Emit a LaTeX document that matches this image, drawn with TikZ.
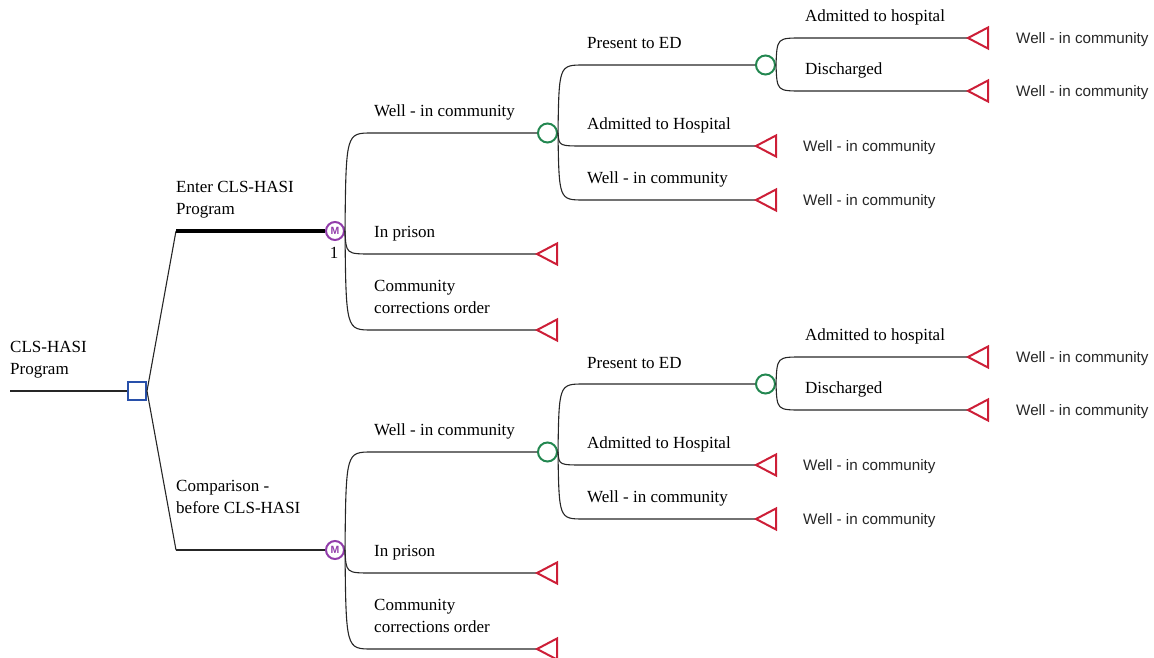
\documentclass[tikz,border=0pt]{standalone}
\usepackage{fontspec}
\setmainfont{Liberation Serif}
\newfontfamily\arialf{Liberation Sans}
\definecolor{tred}{RGB}{205,30,55}
\definecolor{cgreen}{RGB}{35,135,80}
\definecolor{mpurple}{RGB}{145,60,170}
\definecolor{dblue}{RGB}{40,80,170}
\tikzset{
  lbl/.style={anchor=base west, inner sep=0pt, font=\fontsize{17}{22}\selectfont, align=left},
  tlbl/.style={anchor=base west, inner sep=0pt, font=\arialf\fontsize{15.2}{18}\selectfont, text=black!85},
  chance/.style={circle, draw=cgreen, line width=2pt, minimum size=19pt, inner sep=0pt},
  mnode/.style={circle, draw=mpurple, line width=2pt, minimum size=18pt, inner sep=0pt, text=mpurple, font=\arialf\bfseries\fontsize{10.5}{10.5}\selectfont},
  decision/.style={rectangle, draw=dblue, line width=2pt, minimum size=18pt, inner sep=0pt},
  termtri/.style={draw=tred, line width=2pt, line join=miter},
  branch/.style={draw=black!85, line width=1.1pt},
  thickbranch/.style={draw=black, line width=3.5pt},
}
\newcommand\halftree[2]{%
\begin{scope}[yshift=#2]
  \node[mnode] (#1m) at (335,231) {M};
  \coordinate (#1a1) at (372,133);
  \coordinate (#1a2) at (372,254);
  \coordinate (#1a3) at (372,330);
  \node[chance] (#1c1) at (547.5,133) {};
  \coordinate (#1t1) at (537,254);
  \coordinate (#1t2) at (537,330);
  \draw[branch] (#1m.east) .. controls (346,133) .. (#1a1) -- (#1c1.west);
  \draw[branch] (#1m.east) .. controls (346,254) .. (#1a2) -- (#1t1);
  \draw[branch] (#1m.east) .. controls (346,330) .. (#1a3) -- (#1t2);
  \node[lbl] (#1l1) at (374,116.5) {Well - in community};
  \node[lbl] (#1l2) at (374,237.5) {In prison};
  \node[lbl] (#1l3) at (374,313.5) {Community\\corrections order};
  % chance 1
  \coordinate (#1b1) at (584,65);
  \coordinate (#1b2) at (584,146);
  \coordinate (#1b3) at (584,200);
  \node[chance] (#1c2) at (765.5,65) {};
  \coordinate (#1t3) at (756,146);
  \coordinate (#1t4) at (756,200);
  \draw[branch] (#1c1.east) .. controls (559,65) .. (#1b1) -- (#1c2.west);
  \draw[branch] (#1c1.east) .. controls (559,146) .. (#1b2) -- (#1t3);
  \draw[branch] (#1c1.east) .. controls (559,200) .. (#1b3) -- (#1t4);
  \node[lbl] (#1l4) at (587,49) {Present to ED};
  \node[lbl] (#1l5) at (587,129.5) {Admitted to Hospital};
  \node[lbl] (#1l6) at (587,183.5) {Well - in community};
  % chance 2
  \coordinate (#1d1) at (802,38);
  \coordinate (#1d2) at (802,91);
  \coordinate (#1t5) at (968,38);
  \coordinate (#1t6) at (968,91);
  \draw[branch] (#1c2.east) .. controls (777,38) .. (#1d1) -- (#1t5);
  \draw[branch] (#1c2.east) .. controls (777,91) .. (#1d2) -- (#1t6);
  \node[lbl] (#1l7) at (805,21.5) {Admitted to hospital};
  \node[lbl] (#1l8) at (805,74.5) {Discharged};
  % terminals
  \foreach \t in {t1,t2,t3,t4,t5,t6}{
    \draw[termtri] (#1\t) -- ++(20,-10.5) -- ++(0,21) -- cycle;
  }
  \node[tlbl] (#1e3) at (803,151.5) {Well - in community};
  \node[tlbl] (#1e4) at (803,205.5) {Well - in community};
  \node[tlbl] (#1e5) at (1016,43.5) {Well - in community};
  \node[tlbl] (#1e6) at (1016,96.5) {Well - in community};
\end{scope}}
\begin{document}
\begin{tikzpicture}[x=1pt,y=-1pt]
  \useasboundingbox (0,0) rectangle (1154,658);
  % root
  \node[decision] (dec) at (137,391) {};
  \coordinate (r0) at (10,391);
  \draw[branch] (r0) -- (dec.west);
  \node[lbl] (rootlbl) at (10,374.5) {CLS-HASI\\Program};
  \halftree{u}{0pt}
  \halftree{w}{-319pt}
  \coordinate (up) at (176,231);
  \coordinate (lo) at (176,550);
  \draw[branch] (dec.east) -- (up);
  \draw[branch] (dec.east) -- (lo);
  \draw[thickbranch] (up) -- (um.west);
  \draw[branch] (lo) -- (wm.west);
  \node[lbl] (uplbl) at (176,214.5) {Enter CLS-HASI\\Program};
  \node[lbl] (lolbl) at (176,513) {Comparison -\\before CLS-HASI};
  \node[anchor=base, inner sep=0pt, font=\fontsize{17}{22}\selectfont] (one) at (334,258) {1};
\end{tikzpicture}
\end{document}
